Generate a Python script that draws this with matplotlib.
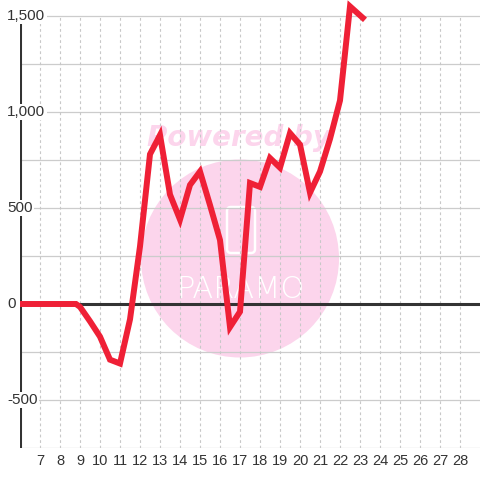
import matplotlib
matplotlib.use("Agg")
import matplotlib.pyplot as plt
from matplotlib.patches import Circle, FancyBboxPatch
from matplotlib.transforms import IdentityTransform

# ---- data ----
x_vals = [6, 6.5, 7, 7.5, 8, 8.5, 8.8, 9, 9.5, 10, 10.5, 11, 11.5, 12, 12.5, 13,
          13.5, 14, 14.5, 15, 15.5, 16, 16.5, 17, 17.5, 18, 18.5, 19, 19.5,
          20, 20.5, 21, 21.5, 22, 22.5, 23.25]
y_vals = [0, 0, 0, 0, 0, 0, 0, -15, -90, -170, -290, -310, -80, 300, 780, 880,
          570, 440, 620, 690, 515, 333, -120, -40, 630, 610, 760, 710, 890,
          830, 580, 690, 860, 1060, 1550, 1480]
x_ticks = list(range(7, 29))
y_label_vals = [-500, 0, 500, 1000, 1500]
y_label_text = ["-500", "0", "500", "1,000", "1,500"]
y_grid = [-750, -500, -250, 0, 250, 500, 750, 1000, 1250, 1500]

W = H = 480
DPI = 100
fig = plt.figure(figsize=(W / DPI, H / DPI), dpi=DPI, facecolor="white")
ax = fig.add_axes([20 / W, 32 / H, 460 / W, 448 / H])
ax.set_facecolor("white")
ax.set_xlim(6, 29)
ax.set_ylim(-750, -750 + 448 / 0.192)
for s in ax.spines.values():
    s.set_visible(False)

# watermark (pixel coordinates)
ident = IdentityTransform()
circ = Circle((240, H - 258.5), 99, transform=ident, facecolor="#fcd5ec",
              edgecolor="none", zorder=0.5, clip_on=False)
ax.add_artist(circ)
ax.text(239, H - 135, "Powered by", transform=ident, color="#fcd5ec",
        fontsize=20, fontweight="bold", fontstyle="oblique",
        family="DejaVu Sans", ha="center", va="center_baseline", zorder=0.5,
        clip_on=False)
box = FancyBboxPatch((227, H - 253), 28, 46, boxstyle="round,pad=0,rounding_size=4",
                     transform=ident, facecolor="none", edgecolor="white",
                     linewidth=1.8, zorder=0.6, clip_on=False)
ax.add_artist(box)
ax.text(240, H - 289, "PARAMO", transform=ident, color="white", fontsize=22,
        fontweight="light", family="DejaVu Sans", ha="center", va="center",
        zorder=0.6, clip_on=False)

# grid
ax.hlines([g for g in y_grid if g != 0], 6, 29, colors="#cccccc",
          linewidth=0.9, zorder=1)
ax.vlines(x_ticks, -750, 1500, colors="#c8c8c8", linewidth=0.8,
          linestyles=(0, (2.5, 2.5)), zorder=1)

# axis lines
ax.plot([6, 29], [0, 0], color="#333333", linewidth=2.2, zorder=3,
        solid_capstyle="butt")
ax.plot([6, 6], [-750, 1500], color="#333333", linewidth=2.2, zorder=3,
        solid_capstyle="butt")

# data line
ax.plot(x_vals, y_vals, color="#ef2036", linewidth=4.3, zorder=5,
        solid_joinstyle="miter", solid_capstyle="butt")

# x tick labels
ax.set_xticks(x_ticks)
ax.set_xticklabels([str(t) for t in x_ticks])
ax.set_yticks([])
ax.tick_params(axis="x", length=0, pad=4, labelsize=10.5, labelcolor="#333333")
for lab in ax.get_xticklabels():
    lab.set_family("Liberation Sans")

# y labels with background boxes
for v, t in zip(y_label_vals, y_label_text):
    yp = ax.transData.transform((6, v))[1]
    fig.text(7 / W, yp / H, t, fontsize=11, color="#333333",
             family="Liberation Sans", ha="left", va="center", zorder=10,
             bbox=dict(facecolor="white", edgecolor="none", pad=1.0))

fig.savefig("out.png", dpi=DPI, facecolor="white")
